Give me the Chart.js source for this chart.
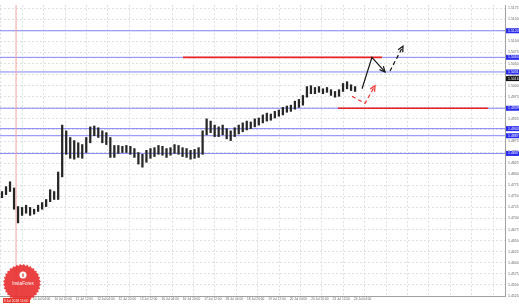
<!DOCTYPE html>
<html>
<head>
<meta charset="utf-8">
<script src="https://cdn.jsdelivr.net/npm/chart.js@4.4.1/dist/chart.umd.min.js"></script>
<style>
html, body { margin: 0; padding: 0; background: #fff; }
</style>
</head>
<body>
<canvas id="priceChart" width="519" height="304"></canvas>
<script>
// x axis is in trading hours from the left edge, one bar = 3 hours
const candleHours = 3;
const hoursShown = 377.6;

const lows = [1.4747,1.4754,1.4761,1.4721,1.4690,1.4707,1.4712,1.4707,1.4710,1.4716,
    1.4721,1.4727,1.4738,1.4743,1.4743,1.4794,1.4845,1.4836,1.4834,1.4838,
    1.4836,1.4849,1.4871,1.4887,1.4883,1.4871,1.4867,1.4838,1.4838,1.4847,
    1.4849,1.4849,1.4845,1.4838,1.4823,1.4816,1.4827,1.4836,1.4840,1.4845,
    1.4843,1.4838,1.4843,1.4847,1.4845,1.4840,1.4838,1.4834,1.4836,1.4838,
    1.4845,1.4889,1.4894,1.4885,1.4885,1.4889,1.4880,1.4876,1.4885,1.4891,
    1.4896,1.4900,1.4903,1.4907,1.4911,1.4916,1.4920,1.4922,1.4927,1.4931,
    1.4934,1.4940,1.4942,1.4947,1.4951,1.4956,1.4974,1.4982,1.4982,1.4985,
    1.4982,1.4985,1.4978,1.4974,1.4976,1.4987,1.4993,1.4989,1.4987];
const highs = [1.4761,1.4772,1.4783,1.4769,1.4727,1.4725,1.4730,1.4725,1.4721,1.4730,
    1.4736,1.4743,1.4765,1.4761,1.4805,1.4911,1.4898,1.4883,1.4876,1.4871,
    1.4867,1.4883,1.4907,1.4909,1.4905,1.4898,1.4894,1.4883,1.4865,1.4865,
    1.4863,1.4865,1.4863,1.4858,1.4849,1.4845,1.4854,1.4858,1.4860,1.4865,
    1.4863,1.4858,1.4860,1.4867,1.4865,1.4860,1.4858,1.4854,1.4856,1.4860,
    1.4898,1.4925,1.4920,1.4911,1.4907,1.4911,1.4903,1.4898,1.4905,1.4911,
    1.4916,1.4920,1.4918,1.4925,1.4927,1.4934,1.4938,1.4936,1.4942,1.4945,
    1.4951,1.4954,1.4956,1.4965,1.4969,1.4978,1.4998,1.5000,1.4996,1.4998,
    1.4993,1.4996,1.4991,1.4987,1.4991,1.5005,1.5009,1.5002,1.4998];

const priceMin = 1.4525;
const priceMax = 1.5182;
const priceStep = 0.0025;

const firstTickHour = 8.67;
const tickEveryHours = 16;
const timeLabels = ["", "10 Jul 04:00", "10 Jul 20:00", "11 Jul 12:00", "12 Jul 04:00",
    "12 Jul 20:00", "13 Jul 12:00", "16 Jul 04:00", "16 Jul 20:00", "17 Jul 12:00",
    "18 Jul 04:00", "18 Jul 20:00", "19 Jul 12:00", "20 Jul 04:00", "20 Jul 20:00",
    "23 Jul 12:00", "24 Jul 04:00"];

// horizontal levels (blue), resistance / support (red)
const levels = [1.5124, 1.5064, 1.5031, 1.4949, 1.4903, 1.4887, 1.4847];
const redPrices = [1.5064, 1.4949];
const redFrom = [136.8, 252.7];
const redTo = [285.6, 364.9];
const currentPrice = 1.5016;
const separatorHour = 12;
const separatorLabel = "9 Jul 2018 15:00";

// forecast paths [hour, price]
const mainPath = [[270.7, 1.4993], [278.1, 1.5064], [287.9, 1.5031]];
const nextPath = [[291.6, 1.5033], [301.3, 1.5089]];
const altPath = [[263.2, 1.4976], [272.9, 1.4960], [280.4, 1.5000]];

const bars = lows.map((lo, i) => ({ x: candleHours / 2 + i * candleHours, y: [lo, highs[i]] }));
const toPts = arr => arr.map(p => ({ x: p[0], y: p[1] }));

// lower order = drawn on top
function lineSet(data, color, width, order, dash, arrow) {
    return {
        type: "line",
        data: data,
        borderColor: color,
        borderWidth: width,
        borderDash: dash || [],
        pointRadius: 0,
        fill: false,
        tension: 0,
        order: order,
        arrow: arrow || false,
    };
}

const datasets = [];
levels.forEach(v => {
    datasets.push(lineSet([{ x: 0, y: v }, { x: hoursShown, y: v }], "#8484f6", 1, 5));
});
datasets.push(lineSet([{ x: separatorHour, y: priceMin }, { x: separatorHour, y: priceMax }], "#f5a0a0", 1, 4));
redPrices.forEach((v, i) => {
    datasets.push(lineSet([{ x: redFrom[i], y: v }, { x: redTo[i], y: v }], "#ea2424", 1.6, 3));
});
datasets.push({
    type: "bar",
    data: bars,
    backgroundColor: "#262626",
    barThickness: 1.6,
    order: 2,
});
datasets.push(lineSet(toPts(mainPath), "#111", 1.2, 1, [], true));
datasets.push(lineSet(toPts(nextPath), "#111", 1.2, 1, [4, 3], true));
datasets.push(lineSet(toPts(altPath), "#ee3030", 1.2, 1, [4, 3], true));

const extras = {
    id: "extras",
    afterDatasetsDraw(chart) {
        const ctx = chart.ctx;
        const xs = chart.scales.x, ys = chart.scales.y;
        chart.data.datasets.forEach(ds => {
            if (!ds.arrow) return;
            const n = ds.data.length;
            const a = ds.data[n - 2], b = ds.data[n - 1];
            const x1 = xs.getPixelForValue(a.x), y1 = ys.getPixelForValue(a.y);
            const x2 = xs.getPixelForValue(b.x), y2 = ys.getPixelForValue(b.y);
            const ang = Math.atan2(y2 - y1, x2 - x1);
            ctx.save();
            ctx.strokeStyle = ds.borderColor;
            ctx.lineWidth = 1.2;
            ctx.beginPath();
            ctx.moveTo(x2 - 6 * Math.cos(ang - 0.45), y2 - 6 * Math.sin(ang - 0.45));
            ctx.lineTo(x2, y2);
            ctx.lineTo(x2 - 6 * Math.cos(ang + 0.45), y2 - 6 * Math.sin(ang + 0.45));
            ctx.stroke();
            ctx.restore();
        });
    },
    afterDraw(chart) {
        const ctx = chart.ctx;
        const area = chart.chartArea;
        const ys = chart.scales.y, xs = chart.scales.x;
        ctx.save();
        ctx.font = "3.5px 'Liberation Sans', Arial, sans-serif";
        ctx.textBaseline = "middle";
        levels.forEach(v => {
            const y = ys.getPixelForValue(v);
            ctx.fillStyle = "#2b2bf0";
            ctx.fillRect(area.right + 1, y - 2.5, 13, 5);
            ctx.fillStyle = "#fff";
            ctx.fillText(v.toFixed(4), area.right + 3, y);
        });
        let y = ys.getPixelForValue(currentPrice);
        ctx.fillStyle = "#111";
        ctx.fillRect(area.right + 1, y - 2.5, 13, 5);
        ctx.fillStyle = "#fff";
        ctx.fillText(currentPrice.toFixed(4), area.right + 3, y);

        // InstaForex seal
        const cx = 22, cy = 283, r = 19;
        ctx.beginPath();
        for (let i = 0; i < 64; i++) {
            const a = i / 64 * Math.PI * 2;
            const rr = i % 2 ? r : r - 1.6;
            ctx.lineTo(cx + rr * Math.cos(a), cy + rr * Math.sin(a));
        }
        ctx.closePath();
        ctx.fillStyle = "rgba(232, 45, 45, 0.9)";
        ctx.fill();
        ctx.beginPath();
        ctx.arc(cx + 1, cy - 8, 3.5, 0, Math.PI * 2);
        ctx.fillStyle = "#fff";
        ctx.fill();
        ctx.fillStyle = "#e82d2d";
        ctx.fillRect(cx + 0.4, cy - 9.5, 1.2, 3.5);
        ctx.fillStyle = "#fff";
        ctx.font = "4.5px 'Liberation Sans', Arial, sans-serif";
        ctx.textAlign = "center";
        ctx.fillText("InstaForex", cx + 1, cy + 1);

        // separator time box
        const sx = xs.getPixelForValue(separatorHour);
        ctx.fillStyle = "#e8322c";
        ctx.fillRect(sx - 13, area.bottom + 2, 27, 5);
        ctx.fillStyle = "#fff";
        ctx.font = "3.3px 'Liberation Sans', Arial, sans-serif";
        ctx.fillText(separatorLabel, sx, area.bottom + 4.6);
        ctx.restore();
    }
};

new Chart(document.getElementById("priceChart"), {
    type: "bar",
    data: { datasets: datasets },
    options: {
        responsive: false,
        animation: false,
        devicePixelRatio: 1,
        layout: { padding: 0 },
        plugins: {
            legend: { display: false },
            tooltip: { enabled: false },
        },
        scales: {
            x: {
                type: "linear",
                min: 0,
                max: hoursShown,
                offset: false,
                afterBuildTicks: scale => {
                    const t = [];
                    for (let h = firstTickHour; h < hoursShown; h += tickEveryHours) t.push({ value: h });
                    scale.ticks = t;
                },
                afterFit: scale => { scale.height = 8; scale.paddingLeft = 0; scale.paddingRight = 0; },
                ticks: {
                    autoSkip: false,
                    maxRotation: 0,
                    align: "start",
                    padding: 1,
                    color: "#666",
                    font: { size: 3.2, family: "'Liberation Sans', Arial, sans-serif" },
                    callback: (v, i) => timeLabels[i] || "",
                },
                grid: { color: "#e0e0e0", drawTicks: false },
                border: { color: "#a0a0a0", dash: [2, 2] },
            },
            y: {
                position: "right",
                min: priceMin,
                max: priceMax,
                afterBuildTicks: scale => {
                    const t = [];
                    for (let k = 0; priceMin + k * priceStep < priceMax; k++) t.push({ value: priceMin + k * priceStep });
                    scale.ticks = t;
                },
                afterFit: scale => { scale.width = 14; },
                ticks: {
                    padding: 3,
                    color: "#666",
                    font: { size: 3.5, family: "'Liberation Sans', Arial, sans-serif" },
                    callback: v => v.toFixed(4),
                },
                grid: { color: "#e0e0e0", drawTicks: false },
                border: { color: "#a0a0a0", dash: [2, 2] },
            },
        },
    },
    plugins: [extras],
});
</script>
</body>
</html>
